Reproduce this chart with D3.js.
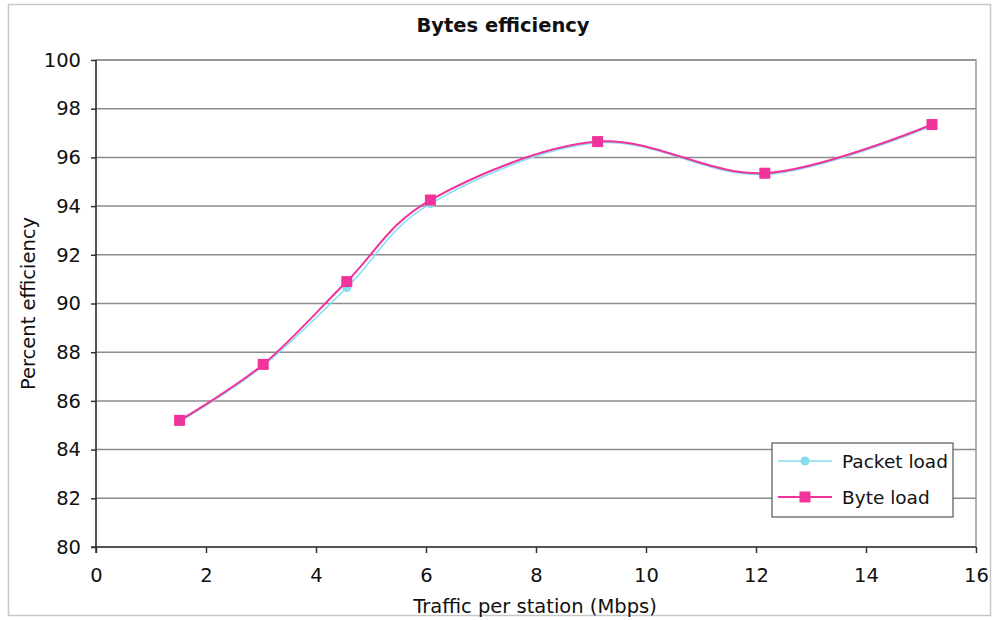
<!DOCTYPE html>
<html>
<head>
<meta charset="utf-8">
<script src="https://cdn.jsdelivr.net/npm/d3@7"></script>
<style>
  body { margin: 0; background: #fff; }
  text { font-family: "DejaVu Sans", Verdana, sans-serif; fill: #111; }
</style>
</head>
<body>
<svg id="chart" width="993" height="620"></svg>
<script>
// Traffic per station (Mbps) for each measured run
const traffic = [1.52, 3.04, 4.56, 6.08, 9.12, 12.16, 15.2];
// Percent efficiency, per load type
const packetLoad = [85.15, 87.45, 90.65, 94.1, 96.6, 95.3, 97.3];
const byteLoad = [85.2, 87.5, 90.9, 94.25, 96.65, 95.35, 97.35];
const seriesNames = ["Packet load", "Byte load"];
const xTicks = [0, 2, 4, 6, 8, 10, 12, 14, 16];
const yTicks = [80, 82, 84, 86, 88, 90, 92, 94, 96, 98, 100];

const svg = d3.select("#chart");
const plot = { left: 96, right: 976, top: 60, bottom: 547 };

const x = d3.scaleLinear().domain([0, 16]).range([plot.left, plot.right]);
const y = d3.scaleLinear().domain([80, 100]).range([plot.bottom, plot.top]);

// outer frame of the chart
svg.append("rect")
  .attr("x", 8.5).attr("y", 4.5).attr("width", 982).attr("height", 611)
  .attr("fill", "#fff").attr("stroke", "#c8c8c8").attr("stroke-width", 1.5);

// plot area with top/right border
svg.append("rect")
  .attr("x", plot.left).attr("y", plot.top)
  .attr("width", plot.right - plot.left).attr("height", plot.bottom - plot.top)
  .attr("fill", "#fff").attr("stroke", "#9a9a9a").attr("stroke-width", 1.5);

// horizontal gridlines
svg.append("g").selectAll("line")
  .data(yTicks.filter(d => d > 80))
  .join("line")
  .attr("x1", plot.left).attr("x2", plot.right)
  .attr("y1", d => y(d)).attr("y2", d => y(d))
  .attr("stroke", "#8c8c8c").attr("stroke-width", 1.5);

// axes
const yAxis = d3.axisLeft(y).tickValues(yTicks).tickSize(5).tickPadding(10).tickFormat(d3.format("d"));
const xAxis = d3.axisBottom(x).tickValues(xTicks).tickSize(6).tickPadding(15).tickFormat(d3.format("d"));

const gy = svg.append("g").attr("transform", `translate(${plot.left},0)`).call(yAxis);
const gx = svg.append("g").attr("transform", `translate(0,${plot.bottom})`).call(xAxis);

[gy, gx].forEach(g => {
  g.select(".domain").attr("stroke", "#333").attr("stroke-width", 1.5);
  g.selectAll(".tick line").attr("stroke", "#333").attr("stroke-width", 1.5);
  g.selectAll(".tick text").attr("font-size", 19.5).attr("fill", "#222")
    .style("font-family", '"DejaVu Sans", Verdana, sans-serif');
});
gy.select(".domain").attr("d", `M0,${plot.top}V${plot.bottom + 6}`);
gx.select(".domain").attr("d", `M${plot.left - 5},0H${plot.right}`);

// titles
svg.append("text")
  .attr("x", 503).attr("y", 32)
  .attr("text-anchor", "middle").attr("font-size", 19.5).attr("font-weight", "bold")
  .text("Bytes efficiency");

svg.append("text")
  .attr("x", 535).attr("y", 613)
  .attr("text-anchor", "middle").attr("font-size", 19.5)
  .text("Traffic per station (Mbps)");

svg.append("text")
  .attr("transform", `translate(35,${(plot.top + plot.bottom) / 2}) rotate(-90)`)
  .attr("text-anchor", "middle").attr("font-size", 19.5)
  .text("Percent efficiency");

// series
const colors = ["#86dcf0", "#f0349c"];
const line = d3.line()
  .x((d, i) => x(traffic[i]))
  .y(d => y(d))
  .curve(d3.curveCardinal.tension(0));

const series = [packetLoad, byteLoad];
series.forEach((vals, s) => {
  svg.append("path")
    .datum(vals)
    .attr("d", line)
    .attr("fill", "none")
    .attr("stroke", colors[s])
    .attr("stroke-width", s === 0 ? 1.5 : 2);
});

// packet load markers (circles)
svg.append("g").selectAll("circle")
  .data(packetLoad)
  .join("circle")
  .attr("cx", (d, i) => x(traffic[i]))
  .attr("cy", d => y(d))
  .attr("r", 4.5)
  .attr("fill", colors[0]);

// byte load markers (squares)
const sq = 11;
svg.append("g").selectAll("rect")
  .data(byteLoad)
  .join("rect")
  .attr("x", (d, i) => x(traffic[i]) - sq / 2)
  .attr("y", d => y(d) - sq / 2)
  .attr("width", sq).attr("height", sq)
  .attr("fill", colors[1]);

// legend
const legend = svg.append("g");
legend.append("rect")
  .attr("x", 772).attr("y", 443).attr("width", 181).attr("height", 74)
  .attr("fill", "#fff").attr("stroke", "#555").attr("stroke-width", 1.2);

seriesNames.forEach((name, s) => {
  const ly = 461 + s * 36;
  legend.append("line")
    .attr("x1", 778).attr("x2", 832).attr("y1", ly).attr("y2", ly)
    .attr("stroke", colors[s]).attr("stroke-width", s === 0 ? 1.5 : 2);
  if (s === 0) {
    legend.append("circle").attr("cx", 805).attr("cy", ly).attr("r", 4.5).attr("fill", colors[0]);
  } else {
    legend.append("rect").attr("x", 805 - sq / 2).attr("y", ly - sq / 2)
      .attr("width", sq).attr("height", sq).attr("fill", colors[1]);
  }
  legend.append("text")
    .attr("x", 842).attr("y", ly + 7)
    .attr("font-size", 18.5)
    .text(name);
});
</script>
</body>
</html>
